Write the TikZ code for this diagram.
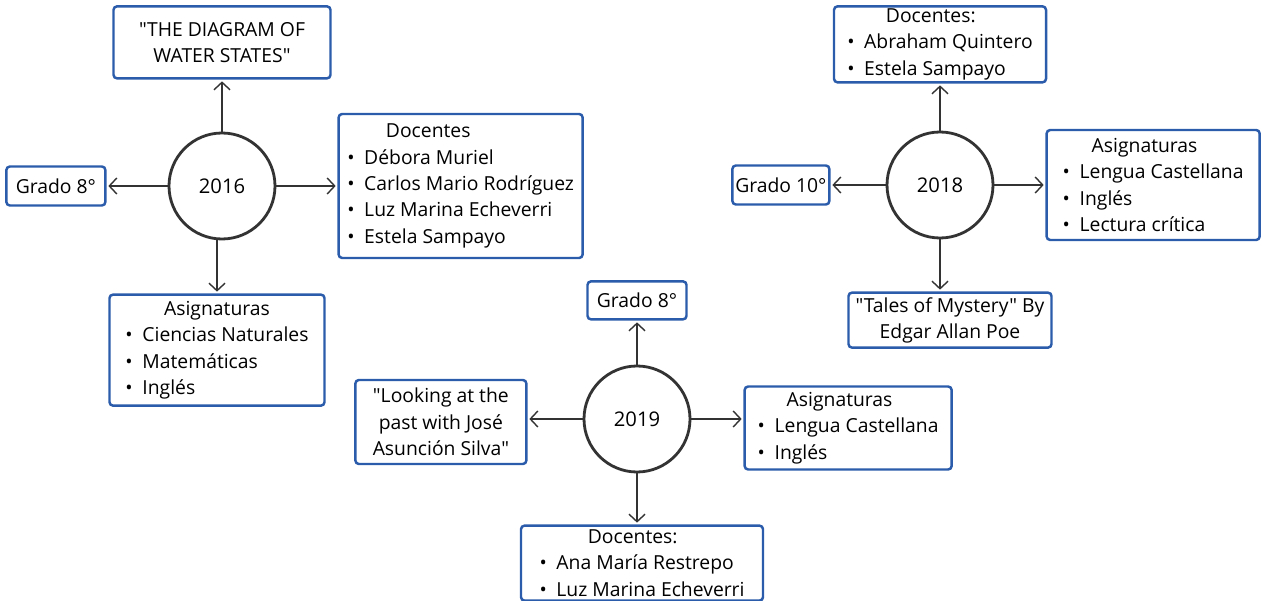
\documentclass[tikz,border=0pt]{standalone}
\usepackage{fontspec}
\setmainfont{Open Sans}[Ligatures=TeXOff]
\usetikzlibrary{positioning, arrows, arrows.meta}
\definecolor{boxblue}{HTML}{2B5CAB}
\definecolor{ink}{HTML}{333333}
\newcommand{\punto}{\textbullet\hspace{0.5em}}
\newcommand{\cabeza}[2][2em]{\hspace*{#1}#2}
\tikzset{
		year node/.style={
			circle,
			draw=ink,
			line width=1.6pt,
			minimum size=2.12cm,
			font=\fontsize{11.5}{14}\selectfont
		},
		info box/.style={
			rectangle,
			rounded corners=2pt,
			draw=boxblue,
			line width=1.4pt,
			fill=white,
			align=left,
			inner sep=0pt,
			font=\fontsize{11}{15}\selectfont
		},
		link/.style={
			-{Straight Barb[length=1.5mm, width=3.2mm]},
			draw=ink,
			line width=0.8pt,
			shorten >=1pt
		}
	}
\begin{document}
\begin{tikzpicture}
	\useasboundingbox (0,0) rectangle (25.24,-12.02);
	% 2016
	\node (y16) [year node] at (4.44,-3.72) {2016};
	\node (y16-t) [info box, align=center, minimum width=4.34cm, minimum height=1.44cm, above=1.04cm of y16]
		{"THE DIAGRAM OF\\WATER STATES"};
	\node (y16-l) [info box, minimum width=1.98cm, minimum height=0.78cm, left=1.22cm of y16] {Grado 8°};
	\node (y16-r) [info box, minimum width=4.88cm, minimum height=2.88cm, right=1.22cm of y16]
		{\cabeza{Docentes}\\ \punto Débora Muriel\\ \punto Carlos Mario Rodríguez\\ \punto Luz Marina Echeverri\\ \punto Estela Sampayo};
	\node (y16-b) [info box, minimum width=4.3cm, minimum height=2.22cm, below=1.06cm of y16, xshift=-0.1cm]
		{\cabeza{Asignaturas}\\ \punto Ciencias Naturales\\ \punto Matemáticas\\ \punto Inglés};
	\draw [link] (y16) -- (y16-t);
	\draw [link] (y16) -- (y16-l);
	\draw [link] (y16) -- (y16-r);
	\draw [link] (y16-b.north |- y16.south) -- (y16-b);
	% 2018
	\node (y18) [year node] at (18.8,-3.7) {2018};
	\node (y18-t) [info box, minimum width=4.24cm, minimum height=1.52cm, above=1.0cm of y18, yshift=-0.06cm]
		{\cabeza{Docentes:}\\ \punto Abraham Quintero\\ \punto Estela Sampayo};
	\node (y18-l) [info box, minimum width=1.94cm, minimum height=0.78cm, left=1.1cm of y18] {Grado 10°};
	\node (y18-r) [info box, minimum width=4.26cm, minimum height=2.2cm, right=1.06cm of y18, xshift=-0.04cm]
		{\cabeza[1.5em]{Asignaturas}\\ \punto Lengua Castellana\\ \punto Inglés\\ \punto Lectura crítica};
	\node (y18-b) [info box, align=center, minimum width=4.06cm, minimum height=1.1cm, below=1.04cm of y18, xshift=0.2cm]
		{"Tales of Mystery" By\\Edgar Allan Poe};
	\draw [link] (y18) -- (y18-t);
	\draw [link] (y18) -- (y18-l);
	\draw [link] (y18) -- (y18-r);
	\draw [link] (y18.south) -- (y18.south |- y18-b.north);
	% 2019
	\node (y19) [year node] at (12.74,-8.38) {2019};
	\node (y19-t) [info box, minimum width=1.98cm, minimum height=0.76cm, above=0.88cm of y19] {Grado 8°};
	\node (y19-l) [info box, align=center, minimum width=3.42cm, minimum height=1.68cm, left=1.1cm of y19, yshift=-0.06cm]
		{"Looking at the\\past with José\\Asunción Silva"};
	\node (y19-r) [info box, minimum width=4.14cm, minimum height=1.66cm, right=1.04cm of y19, yshift=-0.18cm]
		{\cabeza[1.5em]{Asignaturas}\\ \punto Lengua Castellana\\ \punto Inglés};
	\node (y19-b) [info box, minimum width=4.84cm, minimum height=1.5cm, below=1.02cm of y19, xshift=0.1cm]
		{\cabeza[2.5em]{Docentes:}\\ \punto Ana María Restrepo\\ \punto Luz Marina Echeverri};
	\draw [link] (y19) -- (y19-t);
	\draw [link] (y19.west) -- (y19.west -| y19-l.east);
	\draw [link] (y19.east) -- (y19.east -| y19-r.west);
	\draw [link] (y19.south) -- (y19.south |- y19-b.north);
\end{tikzpicture}
\end{document}
